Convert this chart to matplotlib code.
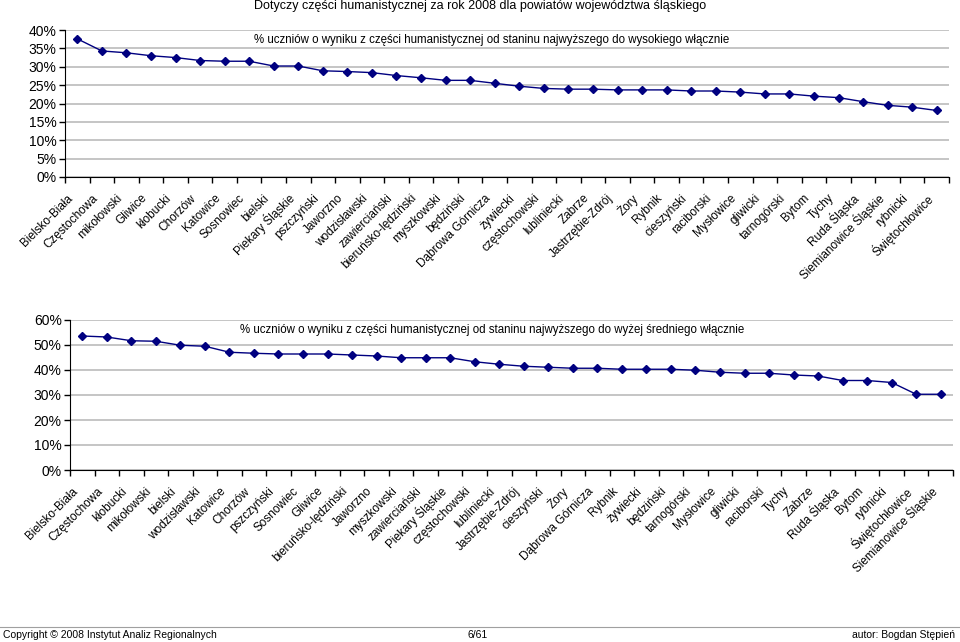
import matplotlib
matplotlib.use("Agg")
import matplotlib.pyplot as plt
from matplotlib.ticker import FixedLocator, FuncFormatter
from matplotlib.transforms import ScaledTranslation

plt.rcParams["font.family"] = ["Liberation Sans", "DejaVu Sans"]

# ---------- data ----------
TITLE = "Dotyczy części humanistycznej za rok 2008 dla powiatów województwa śląskiego"

top_label = ("% uczniów o wyniku z części humanistycznej od staninu najwyższego "
             "do wysokiego włącznie")
top_names = [
    "Bielsko-Biała", "Częstochowa", "mikołowski", "Gliwice", "kłobucki",
    "Chorzów", "Katowice", "Sosnowiec", "bielski", "Piekary Śląskie",
    "pszczyński", "Jaworzno", "wodzisławski", "zawierciański",
    "bieruńsko-lędziński", "myszkowski", "będziński", "Dąbrowa Górnicza",
    "żywiecki", "częstochowski", "lubliniecki", "Zabrze", "Jastrzębie-Zdrój",
    "Żory", "Rybnik", "cieszyński", "raciborski", "Mysłowice", "gliwicki",
    "tarnogórski", "Bytom", "Tychy", "Ruda Śląska", "Siemianowice Śląskie",
    "rybnicki", "Świętochłowice",
]
top_values = [
    37.6, 34.3, 33.8, 33.0, 32.5, 31.7, 31.5, 31.5, 30.2, 30.2,
    28.9, 28.7, 28.4, 27.6, 27.0, 26.3, 26.3, 25.5, 24.7, 24.1,
    23.9, 23.9, 23.7, 23.7, 23.7, 23.4, 23.4, 23.1, 22.6, 22.6,
    22.0, 21.6, 20.5, 19.5, 19.0, 18.1,
]

bottom_label = ("% uczniów o wyniku z części humanistycznej od staninu najwyższego "
                "do wyżej średniego włącznie")
bottom_names = [
    "Bielsko-Biała", "Częstochowa", "kłobucki", "mikołowski", "bielski",
    "wodzisławski", "Katowice", "Chorzów", "pszczyński", "Sosnowiec",
    "Gliwice", "bieruńsko-lędziński", "Jaworzno", "myszkowski",
    "zawierciański", "Piekary Śląskie", "częstochowski", "lubliniecki",
    "Jastrzębie-Zdrój", "cieszyński", "Żory", "Dąbrowa Górnicza", "Rybnik",
    "żywiecki", "będziński", "tarnogórski", "Mysłowice", "gliwicki",
    "raciborski", "Tychy", "Zabrze", "Ruda Śląska", "Bytom", "rybnicki",
    "Świętochłowice", "Siemianowice Śląskie",
]
bottom_values = [
    53.6, 53.2, 51.7, 51.5, 49.9, 49.5, 47.1, 46.7, 46.4, 46.4,
    46.4, 46.0, 45.6, 44.9, 44.9, 44.9, 43.3, 42.3, 41.5, 41.1,
    40.7, 40.7, 40.3, 40.3, 40.3, 39.9, 39.1, 38.7, 38.7, 38.0,
    37.6, 35.8, 35.8, 35.0, 30.3, 30.3,
]

W, H = 960, 642
NAVY = "#000080"
GRID = "#c0c0c0"


def px_axes(fig, x0, y0, x1, y1):
    """Axes from pixel box (top-left origin)."""
    return fig.add_axes([x0 / W, 1 - y1 / H, (x1 - x0) / W, (y1 - y0) / H])


def draw_panel(ax, names, values, ymax, ystep, label, label_x):
    n = len(values)
    xs = list(range(n))
    ax.plot(xs, values, color=NAVY, lw=1.0, marker="D", ms=4.5,
            mfc=NAVY, mec=NAVY, zorder=3, clip_on=False)
    ax.set_xlim(-0.5, n - 0.5)
    ax.set_ylim(0, ymax)
    ax.yaxis.set_major_locator(FixedLocator(range(0, ymax + 1, ystep)))
    ax.yaxis.set_major_formatter(FuncFormatter(lambda v, p: f"{v:.0f}%"))
    ax.grid(axis="y", color=GRID, lw=1.3)
    ax.set_axisbelow(True)
    for s in ("top", "right"):
        ax.spines[s].set_visible(False)
    ax.tick_params(axis="y", direction="out", length=4, width=1,
                   labelsize=10, pad=2)
    # ticks between categories, labels at centres
    ax.set_xticks([i - 0.5 for i in range(n + 1)])
    ax.set_xticklabels([])
    ax.set_xticks(xs, minor=True)
    ax.set_xticklabels(names, minor=True, rotation=45, ha="right",
                       va="center", rotation_mode="anchor", fontsize=8.5)
    ax.tick_params(axis="x", which="major", direction="out", length=4, width=1)
    ax.tick_params(axis="x", which="minor", length=0, pad=14)
    shift = ScaledTranslation(-0.06, 0, ax.figure.dpi_scale_trans)
    for t in ax.get_xticklabels(minor=True):
        t.set_transform(t.get_transform() + shift)
    ax.text(label_x, 0.93, label, transform=ax.transAxes, fontsize=8.3,
            va="center", ha="left")


fig = plt.figure(figsize=(W / 100, H / 100), dpi=100)

fig.text(0.5, 1 - 6 / H, TITLE, ha="center", va="center", fontsize=9)

ax1 = px_axes(fig, 65, 30, 949, 177)
draw_panel(ax1, top_names, top_values, 40, 5, top_label, 0.214)

ax2 = px_axes(fig, 70, 320, 953, 470)
draw_panel(ax2, bottom_names, bottom_values, 60, 10, bottom_label, 0.192)

# footer
fig.add_artist(plt.Line2D([0, 1], [1 - 627 / H, 1 - 627 / H],
                          color="#a0a0a0", lw=0.8, transform=fig.transFigure))
foot = dict(fontsize=7.5, va="center",
            family=["Liberation Sans Narrow", "Liberation Sans", "DejaVu Sans"])
fig.text(3 / W, 1 - 635 / H, "Copyright © 2008 Instytut Analiz Regionalnych",
         ha="left", **foot)
fig.text(468 / W, 1 - 635 / H, "6/61", ha="left", **foot)
fig.text(955 / W, 1 - 635 / H, "autor: Bogdan Stępień", ha="right", **foot)

fig.savefig("out.png", dpi=100)
